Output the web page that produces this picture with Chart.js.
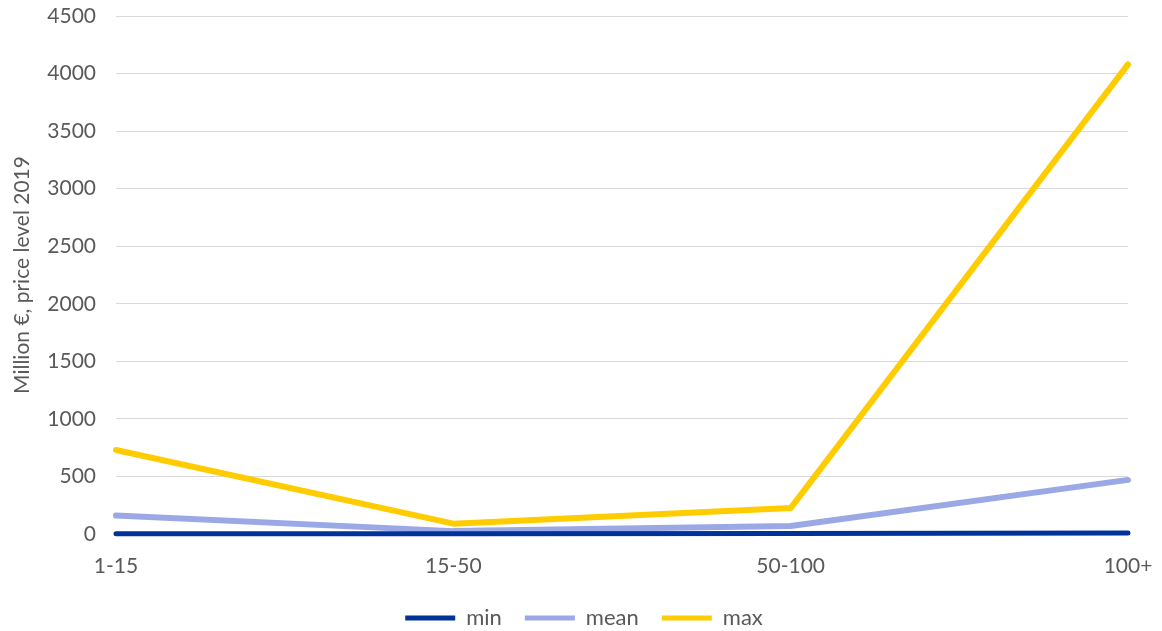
<!DOCTYPE html>
<html>
<head>
<meta charset="utf-8">
<script src="https://cdn.jsdelivr.net/npm/chart.js@4.4.1/dist/chart.umd.min.js"></script>
<style>
  html, body { margin: 0; padding: 0; background: #ffffff; }
  #wrap { width: 1162px; height: 631px; position: relative; }
</style>
</head>
<body>
<div id="wrap"><canvas id="chart"></canvas></div>
<script>
// Size classes (employees) and cost figures in million euro, price level 2019
const categories = ['1-15', '15-50', '50-100', '100+'];
const minValues = [2, 2, 5, 8];
const meanValues = [160, 25, 70, 470];
const maxValues = [730, 90, 225, 4080];
const yTicks = [0, 500, 1000, 1500, 2000, 2500, 3000, 3500, 4000, 4500];

const textColor = '#595959';
const fontFamily = 'Lato, "Open Sans", "DejaVu Sans", sans-serif';

const series = [
  { label: 'min', data: minValues, color: '#003399', width: 5 },
  { label: 'mean', data: meanValues, color: '#9aa9e6', width: 6 },
  { label: 'max', data: maxValues, color: '#ffcc00', width: 6 }
];

new Chart(document.getElementById('chart'), {
  type: 'line',
  data: {
    labels: categories,
    datasets: series.map(s => ({
      label: s.label,
      data: s.data,
      borderColor: s.color,
      backgroundColor: s.color,
      borderWidth: s.width,
      pointRadius: 0,
      pointHoverRadius: 0,
      tension: 0,
      borderCapStyle: 'round',
      borderJoinStyle: 'round',
      fill: false,
      clip: 6
    }))
  },
  options: {
    responsive: true,
    maintainAspectRatio: false,
    animation: false,
    layout: { padding: { top: 0, right: 0, left: 6, bottom: -8 } },
    plugins: {
      tooltip: { enabled: false },
      legend: {
        position: 'bottom',
        labels: {
          color: textColor,
          font: { family: fontFamily, size: 22 },
          boxWidth: 50,
          boxHeight: 5,
          padding: 23,
          useBorderRadius: true,
          borderRadius: 2.5,
          generateLabels: chart => chart.data.datasets.map((d, i) => ({
            text: d.label,
            fillStyle: d.borderColor,
            strokeStyle: d.borderColor,
            lineWidth: 0,
            fontColor: textColor,
            datasetIndex: i
          }))
        }
      }
    },
    scales: {
      x: {
        offset: false,
        afterFit: axis => {
          axis.height = 50;
          axis.paddingRight = 34;
        },
        grid: { display: false, drawTicks: false },
        border: { display: false },
        ticks: {
          color: textColor,
          font: { family: fontFamily, size: 21 },
          padding: 20,
          maxRotation: 0
        }
      },
      y: {
        min: 0,
        max: 4500,
        afterBuildTicks: axis => { axis.ticks = yTicks.map(v => ({ value: v })); },
        afterFit: axis => {
          axis.width = 110;
          axis.paddingTop = 16;
          axis.paddingBottom = 0;
        },
        grid: { color: '#d9d9d9', lineWidth: 1, drawTicks: false },
        border: { display: false },
        ticks: {
          color: textColor,
          font: { family: fontFamily, size: 21 },
          padding: 20,
          callback: v => String(v)
        },
        title: {
          display: true,
          text: 'Million €, price level 2019',
          color: textColor,
          font: { family: fontFamily, size: 21 },
          padding: { top: 4, bottom: 0 }
        }
      }
    }
  }
});
</script>
</body>
</html>
